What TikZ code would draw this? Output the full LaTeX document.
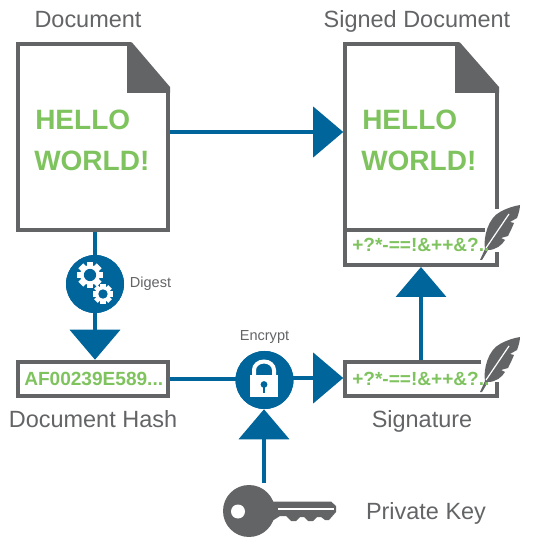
\documentclass[tikz,border=0pt]{standalone}
\usepackage{fontspec}
\setmainfont{Liberation Sans}
\usetikzlibrary{arrows.meta}
\definecolor{flowblue}{HTML}{00659B}
\definecolor{docgray}{HTML}{636466}
\definecolor{txtgreen}{HTML}{7FC35F}
\tikzset{
  outline/.style={draw=docgray,line width=3pt,line cap=butt,miter limit=10},
  flow/.style={draw=flowblue,line width=3pt,-{Triangle[length=22.5pt,width=37.5pt,fill=flowblue]}},
  plainflow/.style={draw=flowblue,line width=3pt},
  caption/.style={text=docgray,font=\fontsize{17.6}{20}\selectfont,inner sep=0pt,anchor=base},
  small caption/.style={text=docgray,font=\fontsize{10.9}{12}\selectfont,inner sep=0pt,anchor=base},
  hello/.style={text=txtgreen,font=\bfseries\fontsize{21}{24}\selectfont,inner sep=0pt,anchor=base west},
  code/.style={text=txtgreen,font=\bfseries\fontsize{14.3}{16}\selectfont,inner sep=0pt,anchor=base west},
  hub/.style={circle,fill=flowblue,minimum size=43.5pt,inner sep=0pt},
}
\newcommand{\cog}[3]{% centre x, centre y, radius
\fill[white] (#1,#2) circle (#3*0.76);
\foreach \a in {0,45,...,315}
\fill[white,rotate around={\a:(#1,#2)}] (#1-#3*0.26,#2) rectangle (#1+#3*0.26,#2-#3);
\fill[flowblue] (#1,#2) circle (#3*0.47);
}
\newcommand{\quill}[2]{% feather, from its lower tip
\begin{scope}[shift={(#1,#2)}]
\fill[docgray] (0,0) -- (5,-11) .. controls (3,-22) and (8,-42) .. (20,-48)
  .. controls (27,-52) and (34,-54) .. (40,-55) .. controls (40,-50) and (38,-45) .. (37,-42)
  -- (30,-38) -- (34,-37) .. controls (32,-32) and (30,-28) .. (28,-24)
  -- (21,-22) -- (25,-20) .. controls (22,-15) and (16,-10) .. (8,-10) -- (2,0) -- cycle;
\draw[white,line width=.9pt] (6,-12) -- (29,-46);
\end{scope}
}
\begin{document}
\begin{tikzpicture}[x=0.75pt,y=-0.75pt]
\useasboundingbox (0,0) rectangle (554,549);
% layout nodes
\node[minimum width=112.5pt,minimum height=139.5pt,inner sep=0pt] (docA) at (93,137) {};
\node[minimum width=116.25pt,minimum height=165.75pt,inner sep=0pt] (docB) at (421,154.5) {};
\node[minimum width=116.25pt,minimum height=28.5pt,inner sep=0pt] (sigbox) at (421,379) {};
\node[minimum width=114pt,minimum height=28.5pt,inner sep=0pt] (hash) at (93,379) {};
\node[hub] (digest) at (95,284) {};
\node[hub] (encrypt) at (264.5,380) {};
\coordinate (keytop) at (264,483);
\coordinate (flowA) at (docA.east |- 0,132);
\coordinate (flowB) at (docB.west |- 0,132);
% connectors
\draw[plainflow] (digest |- docA.south) -- (digest);
\draw[flow] (digest) -- (digest |- hash.north);
\draw[flow] (flowA) -- (flowB);
\draw[plainflow] (hash.east |- 0,379) -- (encrypt.center |- 0,379);
\draw[flow] (encrypt.center |- 0,378) -- (sigbox.west |- 0,378);
\draw[flow] (keytop) -- (keytop |- encrypt.south);
\draw[flow] (sigbox.north) -- (421,267);
% document
\draw[outline] (131,44) -- (18,44) -- (18,230) -- (168,230) -- (168,88);
\fill[docgray] (127,42.5) -- (132,42.5) -- (170,87) -- (170,93) -- (127,93) -- cycle;
% signed document
\draw[outline] (497,209) -- (497,88);
\draw[outline] (459,44) -- (345,44) -- (345,265) -- (497,265) -- (497,252);
\draw[outline] (345,230) -- (485,230);
\fill[docgray] (455,42.5) -- (460,42.5) -- (499,87) -- (499,93) -- (455,93) -- cycle;
% boxes
\draw[outline] (481,362) -- (345,362) -- (345,396) -- (497,396) -- (497,382);
\draw[outline] (18,362) rectangle (168,396);
% cogs
\node[hub] at (digest) {};
\cog{90}{275}{13}
\cog{103}{294}{10}
% padlock
\node[hub] at (encrypt) {};
\draw[white,line width=3pt] (254,376) -- (254,370) arc[start angle=180,end angle=360,x radius=10,y radius=8.5] -- (274,376);
\fill[white] (250,375) rectangle (278,397);
\fill[flowblue] (264,384.5) circle (3.4);
\fill[flowblue] (262.6,385) rectangle (265.4,393);
% key
\fill[docgray] (270,501.5) -- (331,501.5) -- (336,506) -- (336,512) -- (329,520) -- (325,520) -- (321,517) -- (317,517)
  -- (313,521) -- (308,521) -- (304,517) -- (300,517) -- (296,521) -- (291,521) -- (286,516) -- (280,516) -- (272,521) -- (265,521) -- cycle;
\fill[docgray] (249,511) circle (26);
\fill[white] (238,511.5) circle (7);
\fill[white] (278,507.5) rectangle (334,510);
% feathers
\quill{480}{260}
\quill{480}{392}
% texts
\node[caption] (docAlabel) at (88,28) {Document};
\node[caption] (docBlabel) at (417,28) {Signed Document};
\node[caption] (hashlabel) at (93,427) {Document Hash};
\node[caption] (siglabel) at (422,427) {Signature};
\node[caption] (keylabel) at (426,519) {Private Key};
\node[small caption] (digestlabel) at (150.5,288) {Digest};
\node[small caption] (encryptlabel) at (264.5,340) {Encrypt};
\node[hello] (helloA) at (35,130) {HELLO};
\node[hello] (worldA) at (34,171) {WORLD!};
\node[hello] (helloB) at (362,130) {HELLO};
\node[hello] (worldB) at (361,171) {WORLD!};
\node[code] (codeB) at (352,252) {+?*-==!\&++\&?..};
\node[code] (codeS) at (352,385) {+?*-==!\&++\&?..};
\node[code] (codeH) at (24,386) {AF00239E589...};
\end{tikzpicture}
\end{document}
